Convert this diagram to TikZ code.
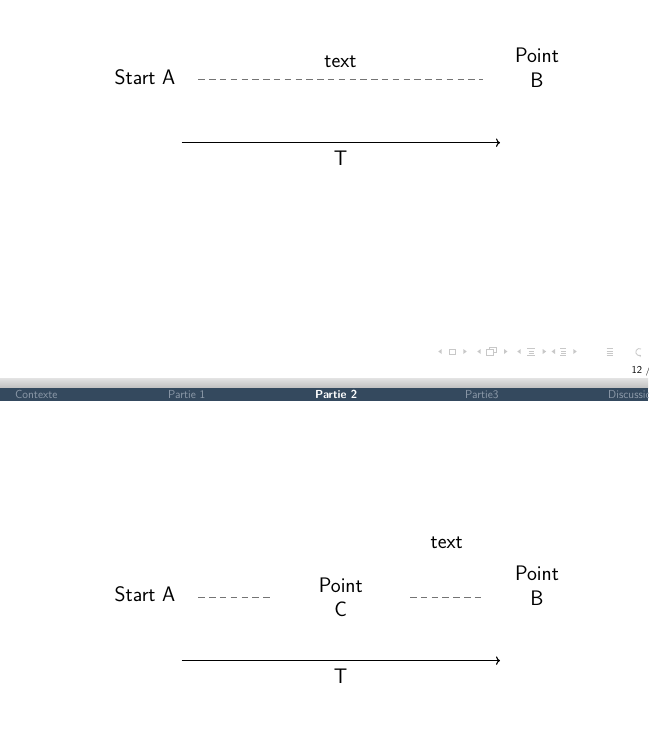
\documentclass[tikz,border=0pt]{standalone}
\usetikzlibrary{arrows.meta}
\definecolor{barblue}{HTML}{34495E}
\definecolor{navdim}{HTML}{8E9BAA}
\definecolor{dashgray}{HTML}{747474}
\definecolor{symgray}{HTML}{C8C8C8}
\begin{document}
\begin{tikzpicture}[x=1pt,y=-1pt,
  lbl/.style={font=\sffamily\fontsize{21}{24.5}\selectfont, inner sep=0pt, align=center},
  navtxt/.style={font=\sffamily\fontsize{11.6}{13}\selectfont, inner sep=0pt, anchor=base west, text=navdim},
  navcur/.style={navtxt, text=white, font=\sffamily\bfseries\fontsize{11.6}{13}\selectfont},
  dashline/.style={draw=dashgray, line width=1.3pt, dash pattern=on 6.5pt off 4.3pt},
  timeline/.style={draw=black, line width=1.1pt, ->},
  symline/.style={draw=symgray, line width=0.8pt},
  symfill/.style={fill=symgray}]
\useasboundingbox (0,0) rectangle (648,743);
\fill[white] (0,0) rectangle (648,743);
\clip (0,0) rectangle (648,743);

% ---------- first slide ----------
\node[lbl, anchor=base] (sa1) at (145,84.3) {Start A};
\node[lbl, anchor=base] (tx1) at (340.5,67.3) {text};
\node[lbl] (pb1) at (537,67.5) {Point\\B};
\coordinate (d1a) at (198.3,79.5);
\coordinate (d1b) at (483.3,79.5);
\draw[dashline] (d1a) -- (d1b);
\coordinate (t1a) at (181.7,142.7);
\coordinate (t1b) at (500,142.7);
\draw[timeline] (t1a) -- (t1b);
\node[lbl, anchor=base] (T1) at (340.7,166) {T};

% navigation symbols
\fill[symfill] (441.7,349) -- (438.3,351.5) -- (441.7,354) -- cycle;
\draw[symline] (449.3,349.3) rectangle (455.7,354);
\fill[symfill] (463.3,349) -- (466.7,351.5) -- (463.3,354) -- cycle;
\fill[symfill] (480.7,349) -- (477.3,351.5) -- (480.7,354) -- cycle;
\draw[symline] (486.5,349.5) rectangle (493,355);
\draw[symline] (489.5,347) -- (496.5,347) -- (496.5,352.5) -- (493,352.5);
\draw[symline] (489.5,347) -- (489.5,349.5);
\fill[symfill] (504,349) -- (507.4,351.5) -- (504,354) -- cycle;
\fill[symfill] (520.7,349) -- (517.3,351.5) -- (520.7,354) -- cycle;
\draw[symline] (527,348.5) -- (534.5,348.5) (528.5,351) -- (533.5,351) (528.5,353.2) -- (533.5,353.2) (527,355.2) -- (534.5,355.2);
\fill[symfill] (542.7,349) -- (546.1,351.5) -- (542.7,354) -- cycle;
\fill[symfill] (555,349) -- (551.6,351.5) -- (555,354) -- cycle;
\draw[symline] (560,348.5) -- (566,348.5) (561,351) -- (566,351) (561,353.2) -- (566,353.2) (560,355.2) -- (566,355.2);
\fill[symfill] (573.3,349) -- (576.7,351.5) -- (573.3,354) -- cycle;
\draw[symline] (606.7,348.5) -- (612.7,348.5) (606.7,351) -- (612.7,351) (606.7,353.2) -- (612.7,353.2) (606.7,355.2) -- (612.7,355.2);
\draw[symline, -{Stealth[length=2pt,width=3pt]}] (641,349) arc[start angle=60,end angle=300,radius=3.5pt];
\node[font=\sffamily\fontsize{10.5}{12}\selectfont, inner sep=0pt, anchor=base west] (pg) at (631.5,373.5) {12 /};

% ---------- headline of next slide ----------
\shade[top color=gray!22, bottom color=gray!50] (0,378) rectangle (648,388);
\fill[barblue] (0,388) rectangle (648,400.5);
\node[navtxt] (h1) at (15,398.3) {Contexte};
\node[navtxt] (h2) at (168,398.3) {Partie 1};
\node[navcur] (h3) at (315,398.3) {Partie 2};
\node[navtxt] (h4) at (465,398.3) {Partie3};
\node[navtxt] (h5) at (608,398.3) {Discussion};

% ---------- second slide ----------
\node[lbl, anchor=base] (sa2) at (145,601.8) {Start A};
\node[lbl, anchor=base] (tx2) at (446.7,548.3) {text};
\node[lbl] (pb2) at (537,585.5) {Point\\B};
\node[lbl] (pc2) at (340.8,597.3) {Point\\C};
\coordinate (d2a) at (198.3,597.3);
\coordinate (d2b) at (270.5,597.3);
\coordinate (d2c) at (410,597.3);
\coordinate (d2d) at (483,597.3);
\draw[dashline] (d2a) -- (d2b);
\draw[dashline] (d2c) -- (d2d);
\coordinate (t2a) at (181.7,660.6);
\coordinate (t2b) at (500,660.6);
\draw[timeline] (t2a) -- (t2b);
\node[lbl, anchor=base] (T2) at (340.7,683.5) {T};
\end{tikzpicture}
\end{document}
